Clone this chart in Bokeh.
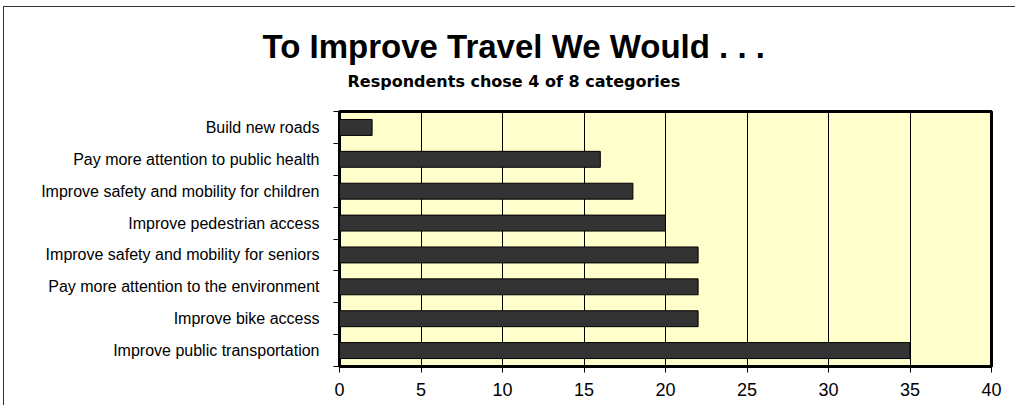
from bokeh.plotting import figure
from bokeh.models import (Range1d, LinearAxis, FixedTicker, Title,
                          ColumnDataSource)
from bokeh.embed import file_html
from bokeh.resources import INLINE

# ---- data (bottom to top) ----
categories = [
    "Improve public transportation",
    "Improve bike access",
    "Pay more attention to the environment",
    "Improve safety and mobility for seniors",
    "Improve pedestrian access",
    "Improve safety and mobility for children",
    "Pay more attention to public health",
    "Build new roads",
]
counts = [35, 22, 22, 22, 20, 18, 16, 2]
x_ticks = [0, 5, 10, 15, 20, 25, 30, 35, 40]
x_min, x_max = 0, 40
title_text = "To Improve Travel We Would . . ."
subtitle_text = "Respondents chose 4 of 8 categories"

FONT = "Liberation Sans"
n = len(categories)
centers = [i + 0.5 for i in range(n)]
bounds = list(range(n + 1))

src = ColumnDataSource(dict(y=centers, cat=categories, count=counts))

p = figure(
    width=1012, height=399,
    y_range=Range1d(0, n),
    x_range=Range1d(x_min, x_max),
    output_backend="svg", toolbar_location=None,
    x_axis_location=None, y_axis_location=None,
    title_location=None,
    min_border_left=335, min_border_right=25,
    min_border_top=104, min_border_bottom=40,
    background_fill_color="#FFFFCC",
    border_fill_color="white",
    outline_line_color="black", outline_line_width=3,
    styles={"margin-left": "3px", "margin-top": "6px",
            "border-left": "1px solid #333", "border-top": "1px solid #333"},
)

# category labels at centers; boundary tick marks as minor ticks
cat_axis = LinearAxis(
    ticker=FixedTicker(ticks=centers, minor_ticks=bounds),
    major_label_overrides={c: name for c, name in zip(centers, categories)},
    major_tick_out=0, major_tick_in=0,
    minor_tick_out=6, minor_tick_in=0,
    major_tick_line_color=None, minor_tick_line_color="black",
    axis_line_color=None,
    major_label_text_font=FONT, major_label_text_font_size="16px",
    major_label_text_color="black", major_label_standoff=14,
)
p.add_layout(cat_axis, "left")

x_axis = LinearAxis(
    ticker=FixedTicker(ticks=x_ticks),
    major_tick_out=6, major_tick_in=0, minor_tick_line_color=None,
    major_tick_line_color="black", axis_line_color=None,
    major_label_text_font=FONT, major_label_text_font_size="18px",
    major_label_text_color="black", major_label_standoff=10,
)
p.add_layout(x_axis, "below")

p.xgrid.ticker = FixedTicker(ticks=x_ticks)
p.xgrid.grid_line_color = "black"
p.xgrid.grid_line_width = 1
p.ygrid.grid_line_color = None
p.grid.level = "underlay"

p.hbar(y="y", left=0, right="count", height=0.5, source=src,
       fill_color="#333333", line_color="black", line_width=1)

# subtitle (nearest the plot), then main title above it
p.add_layout(Title(text=subtitle_text, align="left", offset=8,
                   standoff=42, text_font="DejaVu Sans",
                   text_font_size="16px", text_font_style="bold",
                   text_color="black"), "above")
p.add_layout(Title(text=title_text, align="left", offset=-77,
                   standoff=-33, text_font=FONT,
                   text_font_size="33px", text_font_style="bold",
                   text_color="black"), "above")

open("out.html", "w").write(file_html(p, INLINE))
